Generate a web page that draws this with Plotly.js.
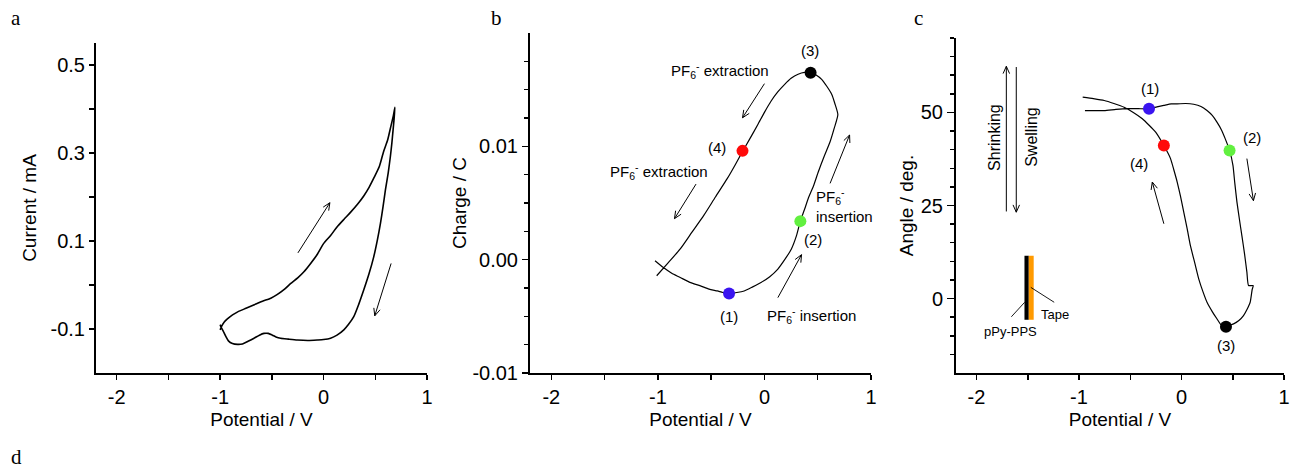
<!DOCTYPE html>
<html>
<head>
<meta charset="utf-8">
<script src="https://cdn.plot.ly/plotly-3.0.1.min.js"></script>
<style>html,body{margin:0;padding:0;background:#fff;}</style>
</head>
<body>
<div id="chart" style="width:1290px;height:468px;"></div>
<script>
// ---------- Panel a : cyclic voltammogram ----------
const cvPotential = [-1.0,-0.99,-0.96,-0.93,-0.88,-0.83,-0.75,-0.67,-0.59,-0.51,-0.45,-0.38,-0.32,-0.25,-0.19,-0.125,-0.06,0.0,0.07,0.13,0.2,0.26,0.33,0.39,0.44,0.49,0.54,0.58,0.62,0.65,0.675,0.69,
  0.682,0.672,0.66,0.646,0.625,0.598,0.575,0.55,0.52,0.485,0.44,0.389,0.34,0.292,0.24,0.196,0.13,0.068,0.0,-0.061,-0.15,-0.254,-0.34,-0.415,-0.46,-0.495,-0.535,-0.576,-0.62,-0.672,-0.73,-0.784,-0.83,-0.881,-0.92,-0.945,-0.97,-0.99,-1.0];
const cvCurrent = [-0.102,-0.096,-0.084,-0.077,-0.068,-0.061,-0.053,-0.045,-0.037,-0.030,-0.022,-0.010,0.003,0.016,0.030,0.049,0.070,0.094,0.113,0.132,0.150,0.165,0.184,0.203,0.222,0.245,0.270,0.303,0.330,0.360,0.385,0.404,
  0.378,0.352,0.322,0.292,0.255,0.216,0.178,0.140,0.102,0.064,0.026,-0.011,-0.044,-0.072,-0.090,-0.102,-0.114,-0.121,-0.124,-0.125,-0.126,-0.125,-0.123,-0.121,-0.118,-0.114,-0.110,-0.110,-0.114,-0.121,-0.128,-0.134,-0.135,-0.133,-0.127,-0.117,-0.105,-0.096,-0.090];

// ---------- Panel b : charge vs potential ----------
const chargePotential = [-1.027,-0.948,-0.87,-0.79,-0.70,-0.60,-0.52,-0.442,-0.39,-0.332,-0.26,-0.19,-0.11,-0.032,0.05,0.126,0.19,0.253,0.30,0.337,0.375,0.411,0.46,0.506,0.56,0.616,0.655,0.689,
  0.66,0.632,0.585,0.537,0.485,0.433,0.375,0.316,0.25,0.19,0.125,0.063,0.0,-0.063,-0.135,-0.206,-0.275,-0.348,-0.46,-0.569,-0.68,-0.79,-0.90,-1.011];
const chargeValue = [-0.0001,-0.0007,-0.0012,-0.00157,-0.0020,-0.00231,-0.0026,-0.00276,-0.0029,-0.00298,-0.0029,-0.00276,-0.0024,-0.00201,-0.0015,-0.00083,0.0000,0.00095,0.0021,0.0034,0.0044,0.0054,0.0065,0.00776,0.0091,0.0104,0.0116,0.0128,
  0.0138,0.01458,0.0153,0.01591,0.0163,0.0165,0.01652,0.01636,0.0160,0.01547,0.0148,0.0140,0.0130,0.0119,0.0107,0.00954,0.00836,0.00717,0.00553,0.00391,0.00243,0.00095,-0.00024,-0.00142];
const bPointPotential = [-0.332, 0.337, 0.433, -0.206];
const bPointCharge = [-0.00298, 0.0034, 0.0165, 0.0096];

// ---------- Panel c : bending angle vs potential ----------
const anglePotential = [-0.942,-0.85,-0.754,-0.64,-0.527,-0.42,-0.317,-0.24,-0.172,-0.10,-0.042,0.04,0.119,0.19,0.249,0.30,0.346,0.39,0.427,0.469,0.502,0.52,0.541,0.565,0.589,0.615,0.638,0.654,0.70,0.69,
  0.670,0.64,0.605,0.56,0.508,0.434,0.39,0.347,0.30,0.249,0.21,0.168,0.13,0.087,0.055,0.022,-0.01,-0.042,-0.075,-0.107,-0.172,-0.252,-0.382,-0.47,-0.560,-0.66,-0.754,-0.86,-0.964];
const angleValue = [50.5,50.5,50.5,50.8,51.0,51.0,51.0,51.5,51.9,52.3,52.3,52.4,52.2,51.6,50.5,49.2,47.4,45.3,42.9,39.8,35.8,31.0,25.9,21.3,16.9,12.0,7.1,3.5,3.5,2.5,
  -1.0,-2.9,-4.6,-5.9,-6.8,-7.4,-7.2,-5.5,-3.5,-1.0,1.8,5.3,9.5,14.2,18.8,23.2,27.5,31.3,34.6,37.6,41.1,44.7,48.3,50.0,51.4,52.4,53.2,53.7,54.1];
const cPointPotential = [-0.317, 0.469, 0.434, -0.172];
const cPointAngle = [51.0, 39.8, -7.6, 41.1];

const pointColors = ['#3a14f0', '#62f040', '#000000', '#ff0a0a'];
const pointLabels = ['(1)', '(2)', '(3)', '(4)'];

// ---------- tick definitions ----------
const xTickVals = [-2, -1, 0, 1];
const xTickText = ['-2', '-1', '0', '1'];
const xMinorVals = [-1.5, -0.5, 0.5];
const aTickVals = [-0.1, 0.1, 0.3, 0.5];
const aTickText = ['-0.1', '0.1', '0.3', '0.5'];
const aMinorVals = [0, 0.2, 0.4];
const bTickVals = [-0.01, 0, 0.01];
const bTickText = ['-0.01', '0.00', '0.01'];
const bMinorVals = [-0.0075, -0.005, -0.0025, 0.0025, 0.005, 0.0075, 0.0125, 0.015, 0.0175];
const cTickVals = [0, 25, 50];
const cTickText = ['0', '25', '50'];
const cMinorVals = [-15, -10, -5, 5, 10, 15, 20, 30, 35, 40, 45, 55, 60, 65, 70];

// ---------- layout geometry ----------
const W = 1290, H = 468;
const M = {l: 96, r: 6, t: 33, b: 95};
const PW = W - M.l - M.r, PH = H - M.t - M.b;
const px2x = p => (p - M.l) / PW;
const px2y = p => (H - M.b - p) / PH;

// pixel boxes and ranges of the three panels (used to shape arrow heads)
const panels = {
  x:  {left: 96,  right: 427,  top: 43, bottom: 373, xr: [-2.2, 1], yr: [-0.2, 0.55], yref: 'y'},
  x2: {left: 530, right: 871,  top: 33, bottom: 373, xr: [-2.2, 1], yr: [-0.01, 0.02], yref: 'y2'},
  x3: {left: 956, right: 1284, top: 38, bottom: 373, xr: [-2.2, 1], yr: [-20, 70], yref: 'y3'}
};

const FONT = 'Liberation Sans, Arial, sans-serif';
const SERIF = 'Liberation Serif, Times New Roman, serif';

function minorTicks(vals, len) {
  return {tickmode: 'array', tickvals: vals, ticks: 'outside', ticklen: len, tickwidth: 1.5, tickcolor: '#000', showgrid: false};
}
function xAxis(key, anchor) {
  const p = panels[key];
  return {
    domain: [px2x(p.left), px2x(p.right)], anchor: anchor, range: p.xr,
    tickmode: 'array', tickvals: xTickVals, ticktext: xTickText,
    minor: minorTicks(xMinorVals, 5),
    showline: true, linewidth: 2, linecolor: '#000', mirror: false,
    ticks: 'outside', ticklen: 5, tickwidth: 1.5, tickcolor: '#000',
    showgrid: false, zeroline: false,
    tickfont: {family: FONT, size: 20, color: '#000'},
    title: {text: 'Potential / V', font: {family: FONT, size: 19, color: '#000'}, standoff: 6}
  };
}
function yAxis(key, anchor, vals, text, title, minorVals, majLen, minLen, standoff) {
  const p = panels[key];
  return {
    domain: [px2y(p.bottom), px2y(p.top)], anchor: anchor, range: p.yr,
    tickmode: 'array', tickvals: vals, ticktext: text,
    minor: minorTicks(minorVals, minLen),
    showline: true, linewidth: 2, linecolor: '#000', mirror: false,
    ticks: 'outside', ticklen: majLen, tickwidth: 1.5, tickcolor: '#000',
    showgrid: false, zeroline: false,
    tickfont: {family: FONT, size: 20, color: '#000'},
    title: {text: title, font: {family: FONT, size: 19, color: '#000'}, standoff: standoff}
  };
}

const traces = [
  {x: cvPotential, y: cvCurrent, xaxis: 'x', yaxis: 'y', mode: 'lines',
   line: {color: '#000', width: 1.6, shape: 'spline', smoothing: 0.6}, hoverinfo: 'skip'},
  {x: chargePotential, y: chargeValue, xaxis: 'x2', yaxis: 'y2', mode: 'lines',
   line: {color: '#000', width: 1.2, shape: 'spline', smoothing: 0.6}, hoverinfo: 'skip'},
  {x: bPointPotential, y: bPointCharge, xaxis: 'x2', yaxis: 'y2', mode: 'markers',
   marker: {color: pointColors, size: 12}, hoverinfo: 'skip'},
  {x: anglePotential, y: angleValue, xaxis: 'x3', yaxis: 'y3', mode: 'lines',
   line: {color: '#000', width: 1.2, shape: 'spline', smoothing: 0.5}, hoverinfo: 'skip'},
  {x: cPointPotential, y: cPointAngle, xaxis: 'x3', yaxis: 'y3', mode: 'markers',
   marker: {color: pointColors, size: 12}, hoverinfo: 'skip'}
];

function txt(xref, yref, x, y, text, size, opts) {
  return Object.assign({xref: xref, yref: yref, x: x, y: y, text: text, showarrow: false,
    font: {family: FONT, size: size, color: '#000'}, xanchor: 'center', yanchor: 'middle'}, opts || {});
}
// thin arrow with an open "V" head, drawn as a path in data coordinates
function arrow(xref, x0, y0, x1, y1) {
  const p = panels[xref];
  const sx = (p.right - p.left) / (p.xr[1] - p.xr[0]);
  const sy = (p.bottom - p.top) / (p.yr[1] - p.yr[0]);
  const dx = (x1 - x0) * sx, dy = (y1 - y0) * sy;
  const len = Math.hypot(dx, dy);
  const bx = -dx / len, by = -dy / len;
  const L = 8, a = 24 * Math.PI / 180;
  const h = [a, -a].map(t => [x1 + L * (bx * Math.cos(t) - by * Math.sin(t)) / sx,
                              y1 + L * (bx * Math.sin(t) + by * Math.cos(t)) / sy]);
  return {type: 'path', xref: xref, yref: p.yref,
    path: `M${x0},${y0} L${x1},${y1} M${h[0][0]},${h[0][1]} L${x1},${y1} L${h[1][0]},${h[1][1]}`,
    line: {color: '#000', width: 1}};
}
const PF6 = 'PF<sub>6</sub><sup>-</sup>';
const letterFont = {family: SERIF, size: 21, color: '#000'};

const annotations = [
  // panel letters
  txt('paper', 'paper', px2x(16), px2y(18), 'a', 21, {font: letterFont}),
  txt('paper', 'paper', px2x(496), px2y(18), 'b', 21, {font: letterFont}),
  txt('paper', 'paper', px2x(918), px2y(18), 'c', 21, {font: letterFont}),
  txt('paper', 'paper', px2x(16), px2y(457), 'd', 21, {font: letterFont}),
  // panel b labels
  txt('x2', 'y2', 0.427, 0.0185, pointLabels[2], 15),
  txt('x2', 'y2', -0.443, 0.0099, pointLabels[3], 15),
  txt('x2', 'y2', 0.458, 0.00175, pointLabels[1], 15),
  txt('x2', 'y2', -0.332, -0.0050, pointLabels[0], 15),
  txt('x2', 'y2', -0.417, 0.0167, PF6 + ' extraction', 15),
  txt('x2', 'y2', -0.992, 0.0078, PF6 + ' extraction', 15),
  txt('x2', 'y2', 0.446, -0.0049, PF6 + ' insertion', 15),
  txt('x2', 'y2', 0.462, 0.0048, PF6 + '<br>insertion', 15, {xanchor: 'left', align: 'left'}),
  // panel c labels
  txt('x3', 'y3', -0.308, 56.3, pointLabels[0], 15),
  txt('x3', 'y3', 0.686, 43.2, pointLabels[1], 15),
  txt('x3', 'y3', 0.434, -12.6, pointLabels[2], 15),
  txt('x3', 'y3', -0.414, 36.2, pointLabels[3], 15),
  txt('x3', 'y3', -1.83, 43.4, 'Shrinking', 16, {textangle: -90}),
  txt('x3', 'y3', -1.47, 43.4, 'Swelling', 16, {textangle: -90}),
  txt('x3', 'y3', -1.67, -8.9, 'pPy-PPS', 13),
  txt('x3', 'y3', -1.233, -4.4, 'Tape', 13)
];

const shapes = [
  // panel a arrows
  arrow('x', -0.248, 0.073, 0.061, 0.187),
  arrow('x', 0.653, 0.049, 0.495, -0.070),
  // panel b arrows
  arrow('x2', 0.0, 0.01553, -0.2057, 0.01252),
  arrow('x2', -0.642, 0.00667, -0.844, 0.00362),
  arrow('x2', 0.616, 0.00673, 0.799, 0.0110),
  arrow('x2', 0.126, -0.00335, 0.348, 0.00044),
  // panel c arrows
  arrow('x3', 0.638, 37.6, 0.702, 26.3),
  arrow('x3', -0.172, 20.1, -0.285, 31.3),
  arrow('x3', -1.709, 23.4, -1.709, 62.4),
  arrow('x3', -1.612, 62.2, -1.612, 23.2),
  // bilayer sketch
  {type: 'rect', xref: 'x3', yref: 'y3', x0: -1.532, x1: -1.490, y0: -5.7, y1: 11.5, fillcolor: '#000', line: {width: 0}},
  {type: 'rect', xref: 'x3', yref: 'y3', x0: -1.490, x1: -1.442, y0: -5.7, y1: 11.5, fillcolor: '#ff9a00', line: {width: 0}},
  {type: 'line', xref: 'x3', yref: 'y3', x0: -1.530, y0: -1.0, x1: -1.660, y1: -4.9, line: {color: '#000', width: 0.9}},
  {type: 'line', xref: 'x3', yref: 'y3', x0: -1.470, y0: 3.0, x1: -1.242, y1: -1.0, line: {color: '#000', width: 0.9}}
];

const layout = {
  width: W, height: H, margin: M, showlegend: false,
  paper_bgcolor: '#fff', plot_bgcolor: 'rgba(0,0,0,0)',
  font: {family: FONT, color: '#000'},
  xaxis: xAxis('x', 'y'),
  yaxis: yAxis('x', 'x', aTickVals, aTickText, 'Current / mA', aMinorVals, 5, 5, 9),
  xaxis2: xAxis('x2', 'y2'),
  yaxis2: yAxis('x2', 'x2', bTickVals, bTickText, 'Charge / C', bMinorVals, 6, 4, 1),
  xaxis3: xAxis('x3', 'y3'),
  yaxis3: yAxis('x3', 'x3', cTickVals, cTickText, 'Angle / deg.', cMinorVals, 7, 4, 2),
  annotations: annotations,
  shapes: shapes
};

Plotly.newPlot('chart', traces, layout, {staticPlot: true, displayModeBar: false});
</script>
</body>
</html>
